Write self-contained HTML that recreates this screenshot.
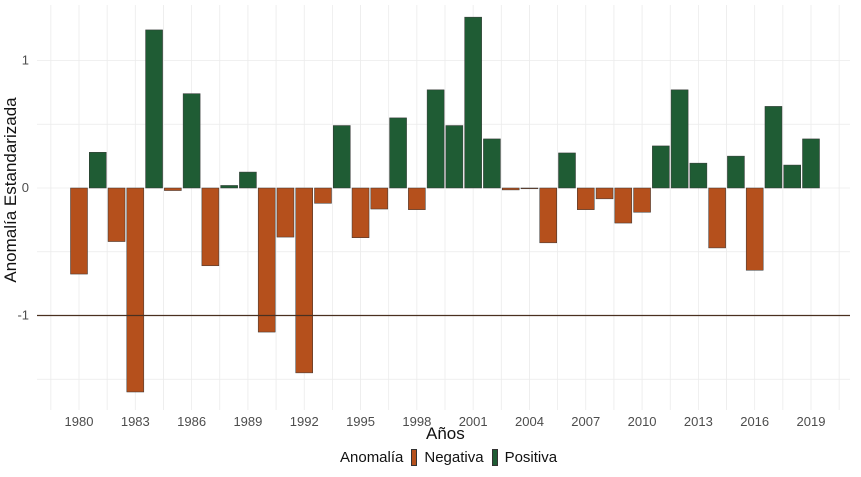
<!DOCTYPE html>
<html><head><meta charset="utf-8"><style>
body{margin:0;background:#fff;font-family:"Liberation Sans",sans-serif}
svg text{font-family:"Liberation Sans",sans-serif}
</style></head><body>
<svg id="c" width="861" height="472"></svg>
<script>
const years=[];for(let y=1980;y<=2019;y++)years.push(y);
const values=[-0.675,0.28,-0.42,-1.60,1.24,-0.02,0.74,-0.61,0.02,0.125,-1.13,-0.385,-1.45,-0.12,0.49,-0.39,-0.165,0.55,-0.17,0.77,0.49,1.34,0.385,-0.015,-0.005,-0.43,0.275,-0.17,-0.085,-0.275,-0.19,0.33,0.77,0.195,-0.47,0.25,-0.645,0.64,0.18,0.385];
const xTicks=[1980,1983,1986,1989,1992,1995,1998,2001,2004,2007,2010,2013,2016,2019];
const yTicks=[-1,0,1];
const yMinor=[-1.5,-0.5,0.5];
const svg=document.getElementById('c');
const NS='http://www.w3.org/2000/svg';
const X=v=>79+(v-1980)*(811-79)/39;
const Y=v=>188-v*127.5;
const L=37,R=850,T=5,B=410;
function el(t,a,p){const e=document.createElementNS(NS,t);for(const k in a)e.setAttribute(k,a[k]);(p||svg).appendChild(e);return e;}
const g=el('g',{});


for(let v=1978.5;v<=2021;v+=1.5){const l=el('line',{x1:X(v),x2:X(v),y1:T,y2:B,stroke:'#ebebeb','stroke-width':0.8},g);}
yMinor.concat(yTicks).forEach(v=>{el('line',{x1:L,x2:R,y1:Y(v),y2:Y(v),stroke:'#ebebeb','stroke-width':0.8},g);});
const bw=17;
values.forEach((v,i)=>{
 const r=el('rect',{x:X(years[i])-bw/2,y:Math.min(Y(v),Y(0)),width:bw,height:Math.max(Math.abs(Y(v)-Y(0)),0.8),fill:v<0?'#b5501c':'#1f5c34',stroke:'#333','stroke-width':0.5});
 
 
});
const ref=el('line',{x1:L,x2:R,y1:Y(-1),y2:Y(-1),stroke:'#4a3020','stroke-width':1.3});


xTicks.forEach(v=>{const t=el('text',{x:X(v),y:426,'text-anchor':'middle','font-size':13,fill:'#4d4d4d'});t.textContent=v;
 
 });
yTicks.forEach(v=>{const t=el('text',{x:29,y:Y(v)+4,'text-anchor':'end','font-size':13,fill:'#4d4d4d'});t.textContent=v;
 
 });
</script>
<div style="position:absolute;left:0;top:0;width:861px;height:472px;pointer-events:none">
<div style="position:absolute;left:426px;top:424px;font-size:17px;color:#111">Años</div>
<div style="position:absolute;left:11px;top:190px;font-size:17px;color:#111;transform:translate(-50%,-50%) rotate(-90deg);white-space:nowrap;transform-origin:center">Anomalía Estandarizada</div>
<div style="position:absolute;left:340px;top:449px;font-size:15px;color:#111;white-space:nowrap;display:flex;align-items:center">
<span>Anomalía</span>
<span style="display:inline-block;width:4px;height:15px;background:#b5501c;margin:0 7px 0 8px;border:0.5px solid #333"></span>
<span>Negativa</span>
<span style="display:inline-block;width:4px;height:15px;background:#1f5c34;margin:0 7px 0 8px;border:0.5px solid #333"></span>
<span>Positiva</span>
</div>
</div>
</body></html>
